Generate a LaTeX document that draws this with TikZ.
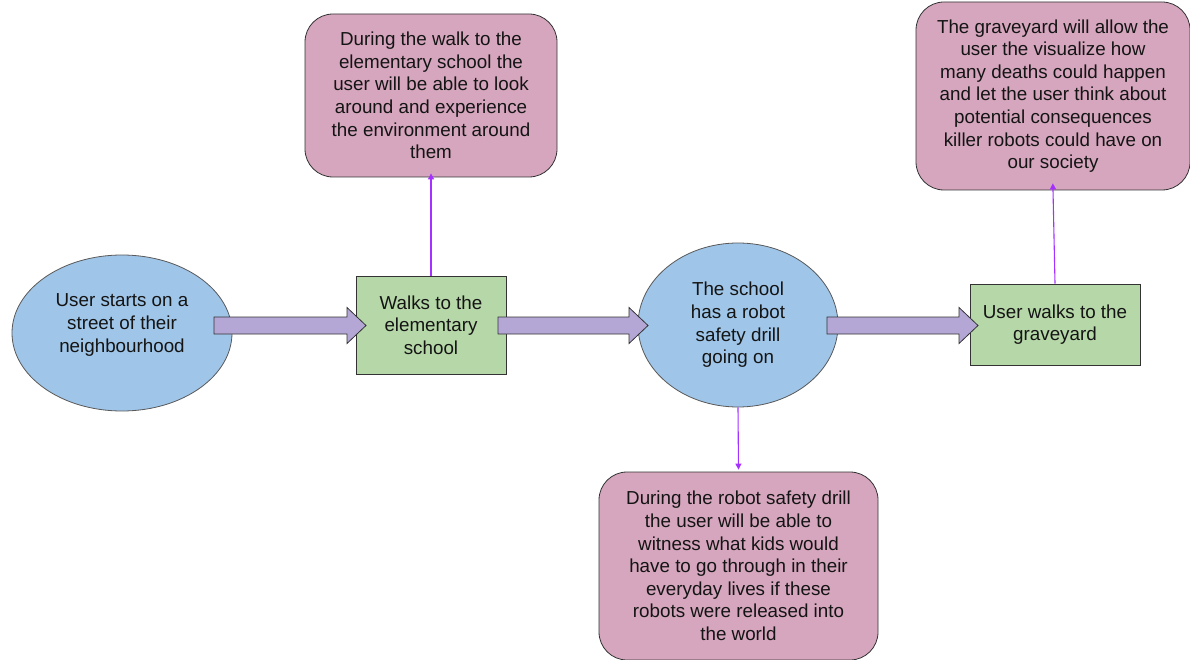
\documentclass[tikz,border=0pt]{standalone}
\usepackage{fontspec}
\setmainfont{Liberation Sans}
\usetikzlibrary{shapes.geometric,arrows.meta,calc}

\definecolor{stepblue}{HTML}{9FC5E8}
\definecolor{stepgreen}{HTML}{B6D7A8}
\definecolor{notepink}{HTML}{D5A6BD}
\definecolor{flowpurple}{HTML}{B4A7D6}
\definecolor{linkviolet}{HTML}{A530FF}

% fat block arrow between two named coordinates
\newcommand{\fatarrow}[2]{%
  \filldraw[fill=flowpurple,draw=black!80,line width=.8pt]
    ($(#1)+(0,-8.5)$) -- ($(#2)+(-19,-8.5)$) -- ($(#2)+(-19,-18)$) -- (#2)
    -- ($(#2)+(-19,18)$) -- ($(#2)+(-19,8.5)$) -- ($(#1)+(0,8.5)$) -- cycle;}

\begin{document}
\begin{tikzpicture}[x=1pt,y=-1pt,
    every node/.style={font=\fontsize{18.8}{22.6}\selectfont,align=center,
      text=black!92,line width=.8pt},
    placeoval/.style={ellipse,fill=stepblue,draw=black!65,inner sep=0pt},
    actbox/.style={rectangle,fill=stepgreen,draw=black!80,inner sep=0pt},
    notebox/.style={rectangle,rounded corners=28pt,fill=notepink,draw=black!80,inner sep=0pt},
    link/.style={linkviolet,line width=1.1pt,-{Triangle[length=6pt,width=6pt]}}]
  \useasboundingbox (0,0) rectangle (1190,660);

  % main path
  \node[placeoval,minimum width=220pt,minimum height=156pt] (street) at (122,333)
    {};
  \node (streettext) at (122,325) {User starts on a\\street of their\\neighbourhood};
  \node[actbox,minimum width=150pt,minimum height=98pt] (walk) at (431,325)
    {Walks to the\\elementary\\school};
  \node[placeoval,minimum width=200pt,minimum height=164pt] (school) at (738,325)
    {The school\\has a robot\\safety drill\\going on};
  \node[actbox,minimum width=170pt,minimum height=81pt] (grave) at (1055,324.5)
    {User walks to the\\graveyard};

  % notes
  \node[notebox,minimum width=252pt,minimum height=163pt] (walknote) at (431,95.5)
    {During the walk to the\\elementary school the\\user will be able to look\\around and experience\\the environment around\\them};
  \node[notebox,minimum width=274pt,minimum height=188pt] (gravenote) at (1053,96)
    {The graveyard will allow the\\user the visualize how\\many deaths could happen\\and let the user think about\\potential consequences\\killer robots could have on\\our society};
  \node[notebox,minimum width=279pt,minimum height=188pt] (drillnote) at (738.5,566)
    {During the robot safety drill\\the user will be able to\\witness what kids would\\have to go through in their\\everyday lives if these\\robots were released into\\the world};

  % block arrows
  \coordinate (a1s) at (214,325.5);
  \coordinate (a1e) at (366,325.5);
  \coordinate (a2s) at (498,325.5);
  \coordinate (a2e) at (648,325.5);
  \coordinate (a3s) at (827,325.5);
  \coordinate (a3e) at (978,325.5);
  \fatarrow{a1s}{a1e}
  \fatarrow{a2s}{a2e}
  \fatarrow{a3s}{a3e}

  % thin links to the notes
  \draw[link,shorten >=-4pt] (walk.north) -- (walknote.south);
  \draw[link,shorten >=2pt] (school.south) -- (drillnote.north);
  \draw[link,shorten >=-7pt] (grave.north) -- (gravenote.south);
\end{tikzpicture}
\end{document}
